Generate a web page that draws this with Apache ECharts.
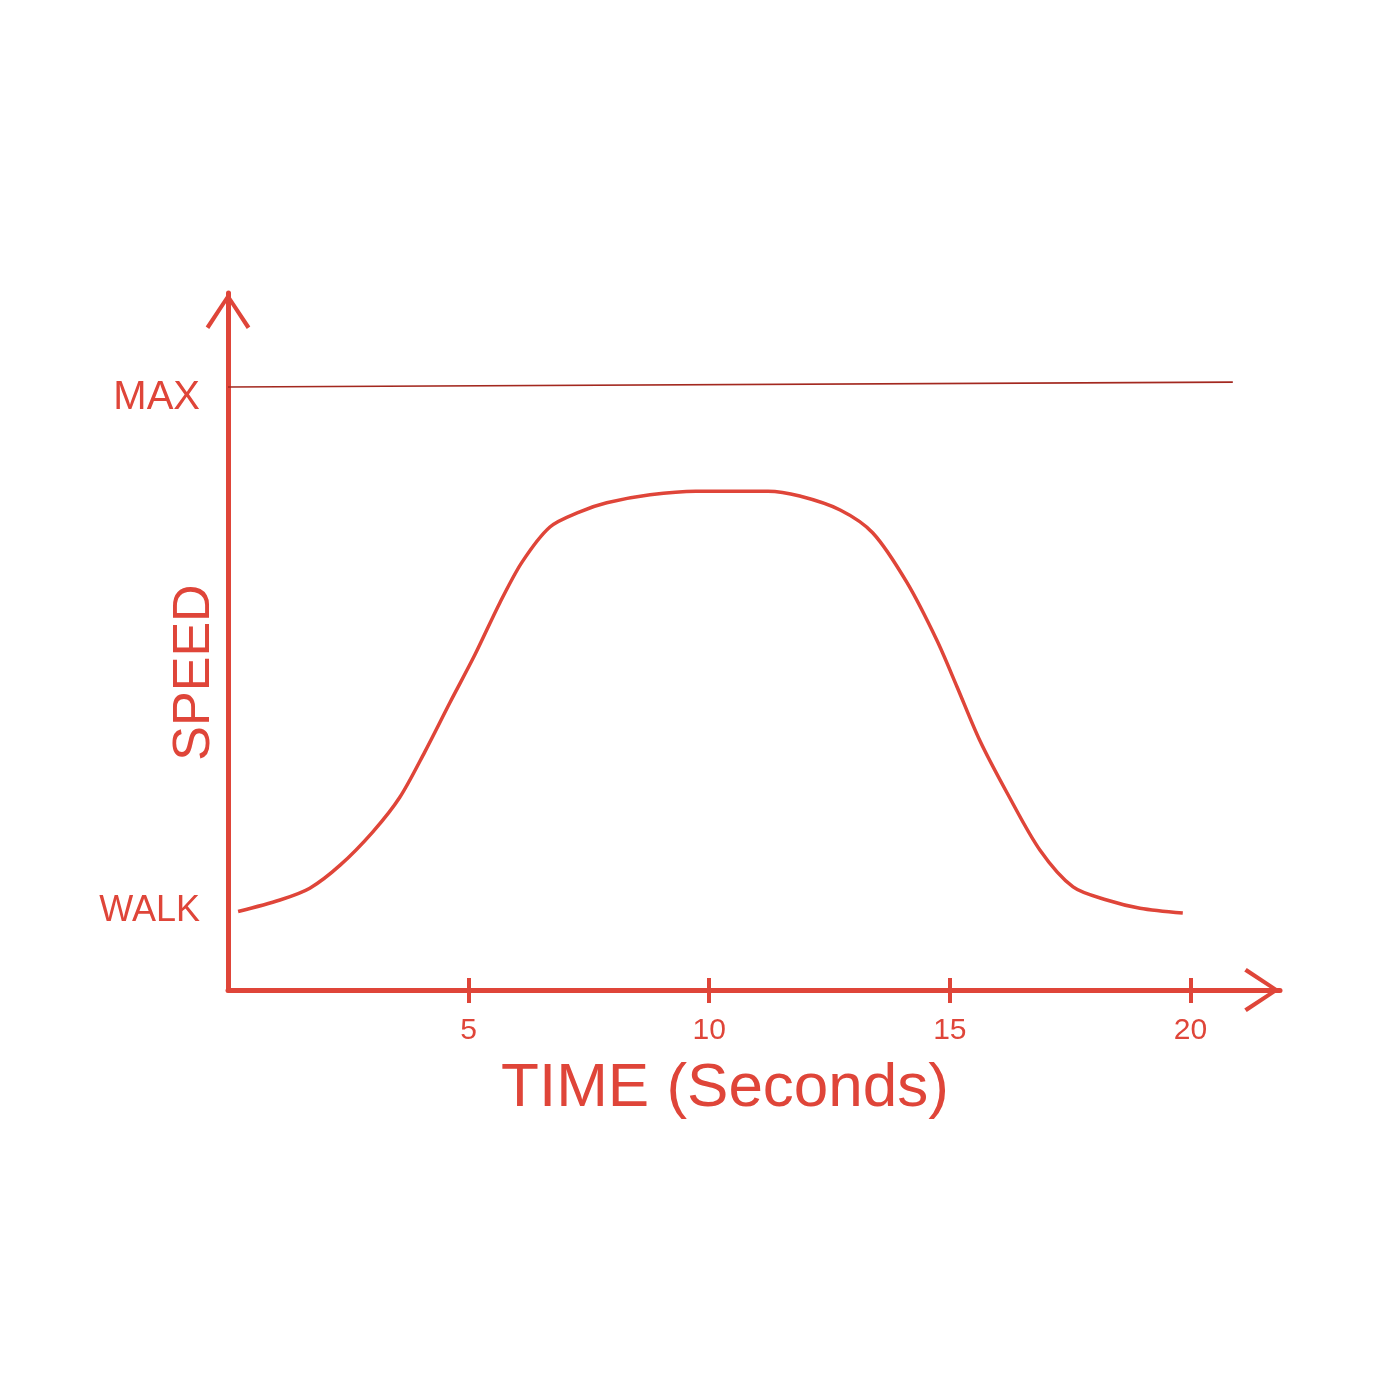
<!DOCTYPE html>
<html>
<head>
<meta charset="utf-8">
<script src="https://cdn.jsdelivr.net/npm/echarts@6/dist/echarts.min.js"></script>
<style>
html,body{margin:0;padding:0;background:#fff;}
#c{width:1377px;height:1377px;}
</style>
</head>
<body>
<div id="c"></div>
<script>
// ---- data ----
const timeSec = [0.21, 1.08, 1.70, 2.33, 3.01, 3.57, 4.09, 4.61, 5.13, 5.65, 6.11, 6.69, 7.31, 7.87, 8.77, 9.72, 11.22, 11.88, 12.72, 13.40, 14.11, 14.73, 15.15, 15.62, 16.19, 16.87, 17.56, 18.26, 18.95, 19.84];
const speed   = [12.95, 14.85, 16.8, 20.6, 26.1, 31.8, 39.3, 47.4, 55.3, 63.9, 70.6, 76.4, 78.9, 80.4, 81.7, 82.3, 82.3, 81.5, 79.2, 75.4, 67.2, 57.7, 50.0, 41.2, 32.5, 23.1, 17.0, 14.85, 13.5, 12.7];
const xTickValues = [5, 10, 15, 20];
const xTickLabels = ['5', '10', '15', '20'];
const yLabelValues = [13, 100];
const yLabelTexts = ['WALK', 'MAX'];
const maxLineStart = [0, 99.5];
const maxLineEnd = [20.88, 100.3];
const xName = 'TIME (Seconds)';
const yName = 'SPEED';

const RED = '#df4539';
const FONT = '"Liberation Sans", Arial, sans-serif';
const chevron = 'path://M22 0 L44 33 L40.5 35.5 L22 7 L3.5 35.5 L0 33 Z';

const chart = echarts.init(document.getElementById('c'), null, {renderer: 'canvas'});
const xMin = 0, xMax = 21.86, yMin = 0, yMax = 115;

chart.setOption({
  backgroundColor: '#ffffff',
  animation: false,
  grid: {left: 228, right: 97, top: 293, bottom: 387, containLabel: false, outerBoundsMode: 'none'},
  xAxis: [{
    type: 'value', min: xMin, max: xMax, interval: 5,
    name: xName, nameLocation: 'middle', nameGap: 68, nameMoveOverlap: false,
    nameTextStyle: {color: RED, fontSize: 62, fontFamily: FONT, padding: [0, 58, 0, 0]},
    axisLine: {show: true, lineStyle: {color: RED, width: 5}, symbol: ['none', chevron], symbolSize: [44, 36], symbolOffset: [0, -18]},
    axisTick: {show: true, customValues: xTickValues, length: 13, lineStyle: {color: RED, width: 4}},
    axisLabel: {show: true, customValues: xTickValues, margin: 26, color: RED, fontSize: 30, fontFamily: FONT,
      formatter: v => xTickLabels[xTickValues.indexOf(v)] || ''},
    splitLine: {show: false}
  }, {
    type: 'value', min: xMin, max: xMax, interval: 5, position: 'bottom',
    axisLine: {show: false},
    axisTick: {show: true, inside: true, customValues: xTickValues, length: 12, lineStyle: {color: RED, width: 4}},
    axisLabel: {show: false},
    splitLine: {show: false}
  }],
  yAxis: {
    type: 'value', min: yMin, max: yMax,
    name: yName, nameLocation: 'middle', nameGap: 7, nameMoveOverlap: false,
    nameTextStyle: {color: RED, fontSize: 52, fontFamily: FONT, padding: [0, 62, 0, 0]},
    axisLine: {show: true, lineStyle: {color: RED, width: 5}, symbol: ['none', chevron], symbolSize: [46, 36], symbolOffset: [0, -18]},
    axisTick: {show: false},
    axisLabel: {show: true, customValues: yLabelValues, margin: 28, color: RED, fontFamily: FONT,
      formatter: v => {
        const i = yLabelValues.indexOf(v);
        return i === 1 ? '{max|' + yLabelTexts[i] + '}' : '{walk|' + yLabelTexts[i] + '}';
      },
      rich: {
        max: {fontSize: 40, color: RED, fontFamily: FONT, padding: [28, 0, 0, 0]},
        walk: {fontSize: 36, color: RED, fontFamily: FONT}
      }
    },
    splitLine: {show: false}
  },
  series: [{
    type: 'line',
    xAxisIndex: 0,
    data: timeSec.map((t, i) => [t, speed[i]]),
    smooth: 0.3,
    showSymbol: false,
    lineStyle: {color: RED, width: 3.5},
    markLine: {
      silent: true,
      symbol: ['none', 'none'],
      label: {show: false},
      lineStyle: {color: '#a3281f', width: 1.6, type: 'solid'},
      data: [[{coord: maxLineStart}, {coord: maxLineEnd}]]
    }
  }]
});
</script>
</body>
</html>
